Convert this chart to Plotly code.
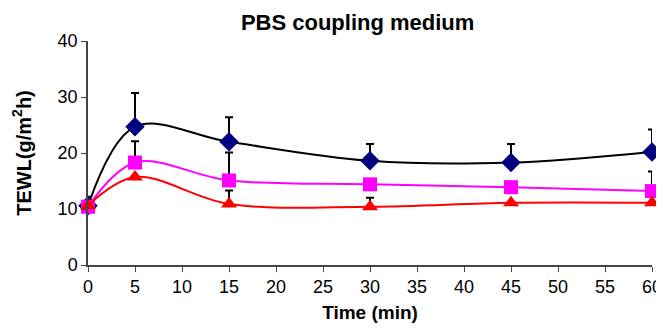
import plotly.graph_objects as go

time_min = [0, 5, 15, 30, 45, 60]
black_vals = [10.6, 24.7, 22.0, 18.6, 18.3, 20.2]
black_err = [1.6, 6.0, 4.4, 3.0, 3.3, 4.0]
pink_vals = [10.4, 18.3, 15.1, 14.4, 13.9, 13.2]
pink_err = [0.0, 3.8, 5.0, 0.0, 0.0, 3.5]
red_vals = [10.6, 15.7, 10.9, 10.4, 11.1, 11.1]
red_err = [0.0, 0.0, 2.4, 1.6, 0.0, 0.0]

x_ticks = list(range(0, 61, 5))
y_ticks = [0, 10, 20, 30, 40]

fig = go.Figure()

def add_series(y, err, line_color, marker_color, symbol, size):
    fig.add_trace(go.Scatter(
        x=time_min, y=y, mode="lines+markers",
        line=dict(color=line_color, width=2, shape="spline", smoothing=1.0),
        marker=dict(color=marker_color, symbol=symbol, size=size),
        error_y=dict(type="data", array=err, arrayminus=[0] * len(err),
                     symmetric=False, color="black", thickness=2, width=4),
        cliponaxis=False, showlegend=False,
    ))

add_series(black_vals, black_err, "black", "#000080", "diamond", 15)
add_series(pink_vals, pink_err, "#FF00FF", "#FF00FF", "square", 14)
add_series(red_vals, red_err, "#FF0000", "#FF0000", "triangle-up", 14)

# page body has an 8px margin, so the figure is sized/offset to compensate
fig.update_layout(
    width=656, height=315,
    margin=dict(l=80, r=12, t=33, b=58),
    paper_bgcolor="white", plot_bgcolor="white",
    font=dict(family="Liberation Sans, Arial, sans-serif", size=18, color="black"),
    title=dict(text="<b>PBS coupling medium</b>", x=0.533, xanchor="center",
               y=0.956, yanchor="middle", font=dict(size=22)),
)
fig.update_xaxes(
    range=[0, 60], tickvals=x_ticks, ticks="outside", ticklen=5, tickcolor="#444",
    showline=True, linecolor="#444", linewidth=1.5, showgrid=False, zeroline=False,
    automargin=False,
    title=dict(text="<b>Time (min)</b>", font=dict(size=19), standoff=11),
    tickfont=dict(size=18),
)
fig.update_yaxes(
    range=[0, 40], tickvals=y_ticks, ticks="outside", ticklen=5, tickcolor="#444",
    showline=True, linecolor="#444", linewidth=1.5, showgrid=False, zeroline=False,
    automargin=False,
    title=dict(text="<b>TEWL(g/m<sup>2</sup>h)</b>", font=dict(size=20), standoff=21),
    tickfont=dict(size=18),
)

fig.write_html("out.html")
